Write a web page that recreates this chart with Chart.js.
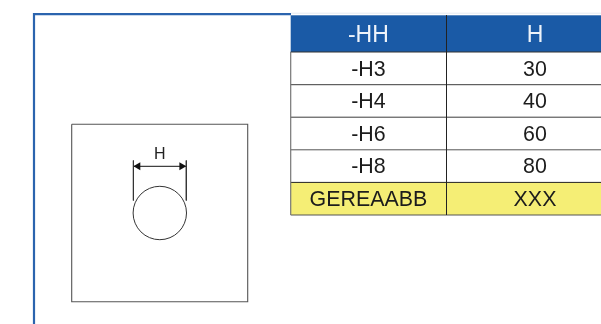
<!DOCTYPE html>
<html>
<head>
<meta charset="utf-8">
<title>Size table</title>
<script src="https://cdn.jsdelivr.net/npm/chart.js@4"></script>
<style>
    html, body { margin: 0; padding: 0; background: #fff; }
    canvas { display: block; }
</style>
</head>
<body>
<canvas id="myChart" width="601" height="324"></canvas>
<script>
// Table content
const columnTitles = ['-HH', 'H'];
const sizeNames = ['-H3', '-H4', '-H6', '-H8'];
const sizeValues = ['30', '40', '60', '80'];
const footerRow = ['GEREAABB', 'XXX'];
const dimensionLabel = 'H';

// Layout of the drawing, in page pixels (the scales below run 0-601 and 0-324)
// the table runs off the right edge, so the second column is centred past the middle of what shows
const tableLeft = 290.7, tableMid = 446.5, tableRight = 601;
const col1Center = 368.4, col2Center = 535;
const rowEdges = [15.3, 52, 84.7, 117.2, 149.8, 182.4, 215];
const plate = { left: 71.7, right: 247.7, top: 124.2, bottom: 301.7 };
const hole = { x: 159.8, y: 213, r: 26.7 };
const dim = { left: 133.4, right: 186.3, top: 160.5, bottom: 200.5, y: 166.3 };

const navy = '#1a5aa6';
const yellow = '#f5ee75';
const lineDark = '#3c3c3c';

function path(points, color, width) {
    return {
        type: 'line',
        data: points.map(p => ({ x: p[0], y: p[1] })),
        borderColor: color,
        borderWidth: width,
        pointRadius: 0,
        fill: false,
        tension: 0,
        clip: false
    };
}

function arrowHead(x, rotation) {
    return {
        type: 'scatter',
        data: [{ x: x, y: dim.y }],
        pointStyle: 'triangle',
        pointRadius: 4.6,
        rotation: rotation,
        backgroundColor: '#111',
        borderColor: '#111',
        borderWidth: 0
    };
}

const datasets = [
    // blue frame around the drawing
    path([[34, 324], [34, 14.2], [291, 14.2]], '#2b64ae', 2.2),
    // faint continuation of the frame above the table
    path([[291, 13.2], [601, 13.2]], '#e4e9f1', 1),
    // plate outline
    path([[plate.left, plate.top], [plate.right, plate.top], [plate.right, plate.bottom],
          [plate.left, plate.bottom], [plate.left, plate.top]], '#555', 1.1),
    // dimension lines
    path([[dim.left, dim.top], [dim.left, dim.bottom]], '#333', 0.9),
    path([[dim.right, dim.top], [dim.right, dim.bottom]], '#333', 0.9),
    path([[dim.left, dim.y], [dim.right, dim.y]], '#111', 1),
    arrowHead(dim.left + 4.6, -90),
    arrowHead(dim.right - 4.6, 90),
    // hole
    {
        type: 'scatter',
        data: [{ x: hole.x, y: hole.y }],
        pointStyle: 'circle',
        pointRadius: hole.r,
        backgroundColor: 'rgba(255,255,255,0)',
        borderColor: '#333',
        borderWidth: 1
    },
    // table grid
    path([[tableLeft, rowEdges[1]], [tableLeft, rowEdges[6]]], '#777', 1.2),
    path([[tableMid, rowEdges[0]], [tableMid, rowEdges[6]]], '#222', 1),
    path([[tableLeft, rowEdges[1]], [tableRight, rowEdges[1]]], '#333', 1),
    path([[tableLeft, rowEdges[2]], [tableRight, rowEdges[2]]], lineDark, 1),
    path([[tableLeft, rowEdges[3]], [tableRight, rowEdges[3]]], lineDark, 1),
    path([[tableLeft, rowEdges[4]], [tableRight, rowEdges[4]]], '#555', 1),
    path([[tableLeft, rowEdges[5]], [tableRight, rowEdges[5]]], '#222', 1),
    path([[tableLeft, rowEdges[6]], [tableRight, rowEdges[6]]], '#555', 1.2)
];

// Cell fills go under the datasets, text goes over them
const tablePlugin = {
    id: 'tablePlugin',
    beforeDatasetsDraw(chart) {
        const c = chart.ctx, xs = chart.scales.x, ys = chart.scales.y;
        const fillRow = (top, bottom, color) => {
            c.fillStyle = color;
            c.fillRect(xs.getPixelForValue(tableLeft), ys.getPixelForValue(top),
                xs.getPixelForValue(tableRight) - xs.getPixelForValue(tableLeft),
                ys.getPixelForValue(bottom) - ys.getPixelForValue(top));
        };
        fillRow(rowEdges[0], rowEdges[1], navy);
        fillRow(rowEdges[5], rowEdges[6], yellow);
    },
    afterDatasetsDraw(chart) {
        const c = chart.ctx, xs = chart.scales.x, ys = chart.scales.y;
        const col1 = xs.getPixelForValue(col1Center);
        const col2 = xs.getPixelForValue(col2Center);
        c.save();
        c.textAlign = 'center';
        c.textBaseline = 'alphabetic';
        const rows = [columnTitles];
        sizeNames.forEach((name, i) => rows.push([name, sizeValues[i]]));
        rows.push(footerRow);
        rows.forEach((row, i) => {
            const base = ys.getPixelForValue(rowEdges[i + 1]) - (i === 0 ? 10.3 : 9);
            c.font = (i === 0 ? 23 : 21.4) + 'px "Liberation Sans"';
            c.fillStyle = i === 0 ? '#eef3fa' : '#1c1c1c';
            c.fillText(row[0], col1, base);
            c.fillText(row[1], col2, base);
        });
        c.font = '16px "Liberation Sans"';
        c.fillStyle = '#222';
        c.fillText(dimensionLabel, xs.getPixelForValue(hole.x), ys.getPixelForValue(159));
        c.restore();
    }
};

const myChart = new Chart(document.getElementById('myChart').getContext('2d'), {
    type: 'scatter',
    data: { datasets: datasets },
    options: {
        responsive: false,
        animation: false,
        layout: { padding: 0, autoPadding: false },
        plugins: { legend: { display: false }, tooltip: { enabled: false } },
        scales: {
            x: { type: 'linear', min: 0, max: 601, display: false },
            y: { type: 'linear', min: 0, max: 324, reverse: true, display: false }
        }
    },
    plugins: [tablePlugin]
});
</script>
</body>
</html>
